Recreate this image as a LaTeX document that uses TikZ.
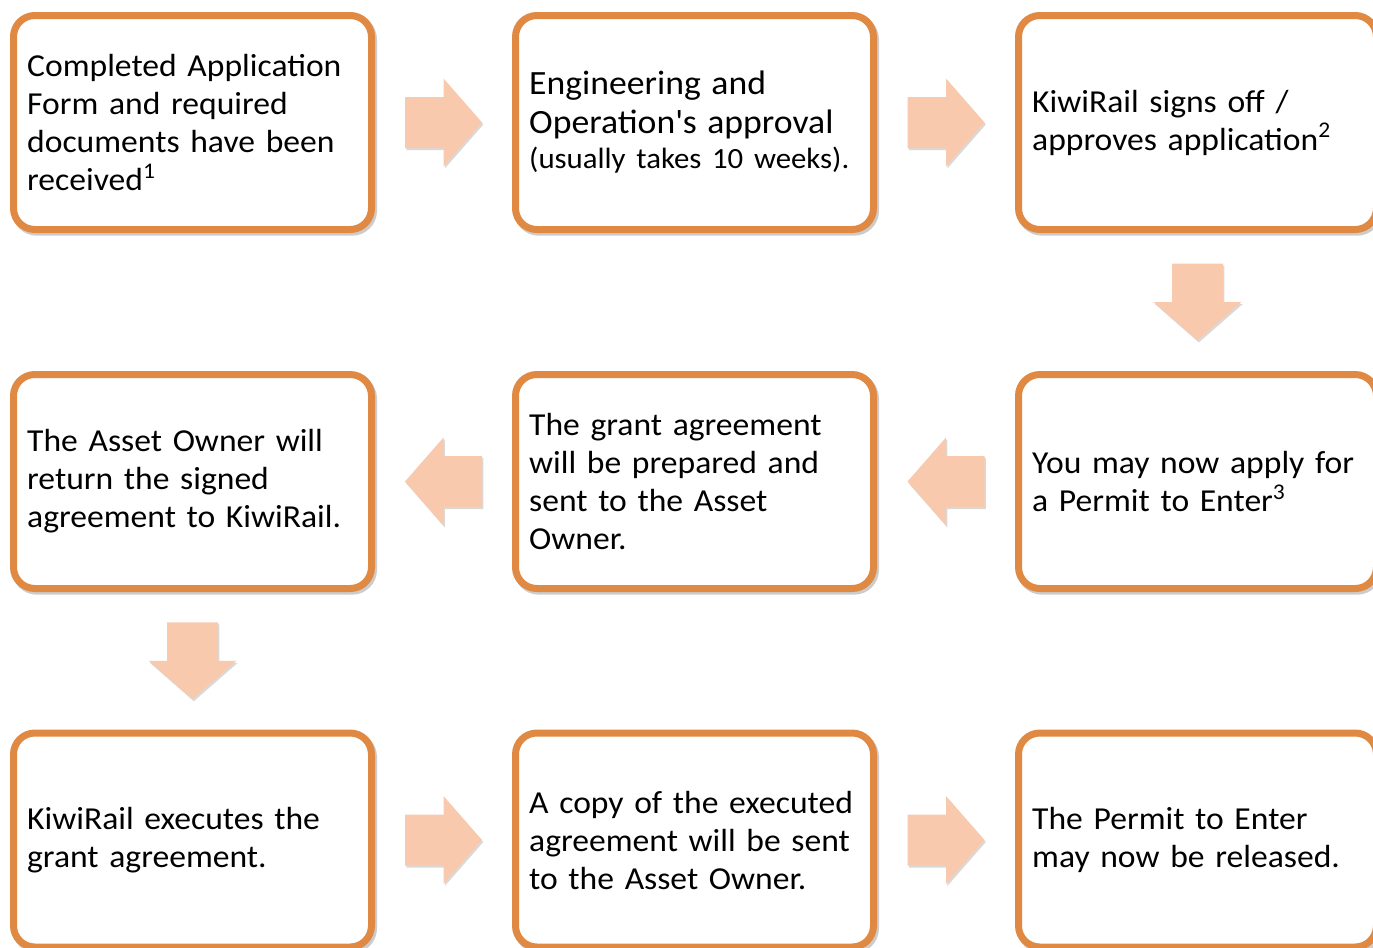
\documentclass[tikz,border=0pt]{standalone}
\usepackage{fontspec}
\setmainfont{Carlito}[FakeStretch=1.05]
\usetikzlibrary{calc,shadows}
\definecolor{boxorange}{RGB}{224,137,66}
\definecolor{arrowpeach}{RGB}{249,201,174}
\tikzset{
  stage/.style={draw=boxorange, line width=5.25pt, rounded corners=16pt, fill=white,
    minimum width=268.5pt, minimum height=160.5pt, text width=248pt, align=left,
    inner sep=0pt, font=\fontsize{24pt}{28.5pt}\selectfont,
    drop shadow={shadow xshift=1.5pt, shadow yshift=-2pt, opacity=.2, fill=black, draw=black, line width=5.25pt}},
  blockarrow/.pic={
    \fill[arrowpeach, drop shadow={shadow xshift=1pt, shadow yshift=-1.5pt, opacity=.15, fill=black}] (-38.5,-25.5) -- (0,-25.5) -- (0,-44) -- (38.5,0) -- (0,44) -- (0,25.5) -- (-38.5,25.5) -- cycle;
  }
}
\begin{document}
\begin{tikzpicture}[x=0.75pt,y=-0.75pt]
   \useasboundingbox (0,0) rectangle (1373,947);
   \clip (0,0) rectangle (1373,947);
   % first row
   \node[stage] (recv) at (192.5,122.5) {Completed Application\\ Form and required\\ documents have been\\ received\textsuperscript{1}};
   \node[stage] (approve) at (694.5,122.5) {\fontsize{25.5pt}{29.25pt}\selectfont Engineering and\\ Operation\textquotesingle s approval\\[-2.25pt] \fontsize{22pt}{29.25pt}\selectfont (usually takes 10 weeks).};
   \node[stage] (signoff) at (1197.5,122.5) {KiwiRail signs off /\\ approves application\textsuperscript{2}};
   % second row
   \node[stage] (apply) at (1197.5,481.5) {You may now apply for\\ a Permit to Enter\textsuperscript{3}};
   \node[stage] (grant) at (694.5,481.5) {The grant agreement\\ will be prepared and\\ sent to the Asset\\ Owner.};
   \node[stage] (ret) at (192.5,481.5) {The Asset Owner will\\ return the signed\\ agreement to KiwiRail.};
   % third row
   \node[stage] (exec) at (192.5,840) {KiwiRail executes the\\ grant agreement.};
   \node[stage] (copy) at (694.5,840) {A copy of the executed\\ agreement will be sent\\ to the Asset Owner.};
   \node[stage] (release) at (1197.5,840) {The Permit to Enter\\ may now be released.};

   \foreach \a/\b/\r in {recv/approve/0, approve/signoff/0, signoff/apply/-90, apply/grant/180, grant/ret/180, ret/exec/-90, exec/copy/0, copy/release/0}
   {
       \pic[rotate=\r] at ($(\a)!.5!(\b)$) {blockarrow};
   }
\end{tikzpicture}
\end{document}
